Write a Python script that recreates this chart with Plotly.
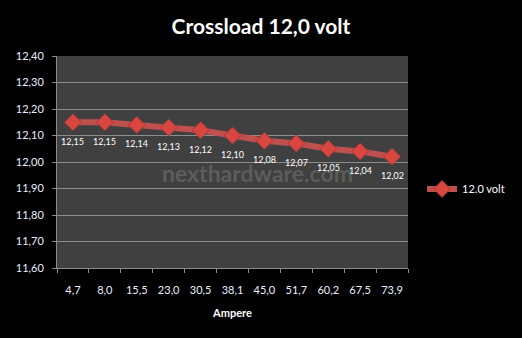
import plotly.graph_objects as go

# Crossload test on the 12 V rail
amperes = ["4,7", "8,0", "15,5", "23,0", "30,5", "38,1", "45,0", "51,7", "60,2", "67,5", "73,9"]
volts = [12.15, 12.15, 12.14, 12.13, 12.12, 12.10, 12.08, 12.07, 12.05, 12.04, 12.02]
y_ticks = [11.60, 11.70, 11.80, 11.90, 12.00, 12.10, 12.20, 12.30, 12.40]

font_family = "Lato, Open Sans, sans-serif"
labels = [f"{v:.2f}".replace(".", ",") for v in volts]

fig = go.Figure()

# watermark behind the series
fig.add_annotation(x=0.572, y=0.45, xref="paper", yref="paper",
                   text="<b>nexthardware.com</b>", showarrow=False,
                   font=dict(size=23, color="#5c5c5c", family=font_family))

fig.add_trace(go.Scatter(
    x=amperes, y=volts, name="12.0 volt",
    mode="lines+markers",
    line=dict(color="#c0504d", width=6),
    marker=dict(symbol="diamond", size=13, color="#d9453f",
                line=dict(color="#a33a36", width=1)),
))

# value labels under each point
for a, v, t in zip(amperes, volts, labels):
    fig.add_annotation(x=a, y=v, text=t, showarrow=False, yshift=-19,
                       font=dict(color="white", size=9, family=font_family))

fig.update_layout(
    width=522, height=338,
    margin=dict(l=57, r=110, t=56, b=70),
    paper_bgcolor="black", plot_bgcolor="#404040",
    separators=",.",
    title=dict(text="<b>Crossload 12,0 volt</b>", x=0.5, xanchor="center",
               y=0.92, yanchor="middle",
               font=dict(size=21, color="white", family=font_family)),
    font=dict(family=font_family, color="#e8f0ff", size=11),
    showlegend=True,
    legend=dict(x=1.04, y=0.373, xanchor="left", yanchor="middle",
                bgcolor="rgba(0,0,0,0)", font=dict(size=11, color="white")),
    xaxis=dict(
        type="category", range=[-0.5, len(amperes) - 0.5],
        showgrid=False, showline=True, linecolor="#8c8c8c",
        ticks="outside", ticklen=4, tickcolor="#8c8c8c", tickson="boundaries",
        tickangle=0, ticklabelstandoff=12,
        title=dict(text="<b>Ampere</b>", font=dict(size=11, color="white"), standoff=14),
    ),
    yaxis=dict(
        range=[11.60, 12.40], tickvals=y_ticks, tickformat=".2f",
        showgrid=True, gridcolor="#8c8c8c", gridwidth=1,
        showline=True, linecolor="#8c8c8c", ticks="outside", ticklen=4,
        tickcolor="#8c8c8c", zeroline=False, ticklabelstandoff=6,
    ),
)

fig.write_html("out.html")
